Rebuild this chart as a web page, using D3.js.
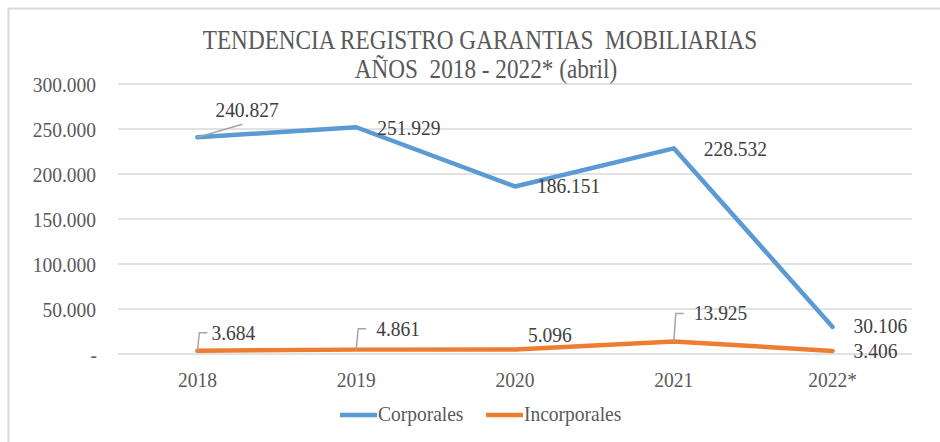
<!DOCTYPE html>
<html><head><meta charset="utf-8">
<script src="https://cdn.jsdelivr.net/npm/d3@7"></script>
<style>
html,body{margin:0;padding:0;background:#fff;}
text{font-family:"Liberation Serif","Times New Roman",serif;}
</style></head>
<body>
<svg id="c" width="940" height="442"></svg>
<script>
const years = ["2018","2019","2020","2021","2022*"];
const corporales = [240827, 251929, 186151, 228532, 30106];
const incorporales = [3684, 4861, 5096, 13925, 3406];
const yTicks = [0, 50000, 100000, 150000, 200000, 250000, 300000];
const titleLines = ["TENDENCIA REGISTRO GARANTIAS  MOBILIARIAS", "AÑOS  2018 - 2022* (abril)"];
const seriesNames = ["Corporales", "Incorporales"];

// label layout (offsets from point, px)
const corpLabelOff = [[18,-20],[21,8],[22,7],[30,8],[21,6]];
const incLabelOff  = [[14,-11],[20,-14],[13,-7],[20,-21],[21,7]];
const corpLeader = [true,false,false,false,false];
const incLeader  = [true,true,false,true,false];

const svg = d3.select("#c");
const loc = d3.formatLocale({decimal:",", thousands:".", grouping:[3], currency:["",""]});
const fmt = loc.format(",d");
const SX = 0.885;

function txt(g, x, y, s, opt) {
  opt = opt || {};
  return g.append("text")
    .attr("transform", `translate(${x},${y}) scale(${opt.sx||SX},1)`)
    .attr("text-anchor", opt.anchor || "start")
    .attr("font-size", opt.size || 22)
    .attr("fill", opt.fill || "#404040")
    .attr("xml:space","preserve")
    .style("white-space","pre")
    .text(s);
}

// border
svg.append("rect").attr("x",8.5).attr("y",8.5).attr("width",960).attr("height",460)
  .attr("fill","none").attr("stroke","#d9d9d9").attr("stroke-width",2);

const x = d3.scaleBand().domain(years).range([118, 912]).padding(0);
const y = d3.scaleLinear().domain([0, 300000]).range([354, 84]);
const cx = d => x(d) + x.bandwidth()/2;

// gridlines
svg.append("g").selectAll("line").data(yTicks).join("line")
  .attr("x1",118).attr("x2",912)
  .attr("y1",d=>y(d)).attr("y2",d=>y(d))
  .attr("stroke","#d9d9d9").attr("stroke-width",1.5);

// y labels
const gy = svg.append("g");
yTicks.forEach(t => {
  txt(gy, t===0 ? 97 : 96, y(t)+7.5, t===0 ? "-" : fmt(t), {anchor:"end", fill:"#595959"});
});

// x labels
const gx = svg.append("g");
years.forEach(yr => txt(gx, cx(yr), 387, yr, {anchor:"middle", fill:"#595959"}));

// title
txt(svg, 480, 49, titleLines[0], {anchor:"middle", size:27, sx:0.86, fill:"#595959"});
txt(svg, 486, 78, titleLines[1], {anchor:"middle", size:27, sx:0.86, fill:"#595959"});

// lines
const line = d3.line().x((d,i)=>cx(years[i])).y(d=>y(d));
svg.append("path").datum(corporales).attr("d", line)
  .attr("fill","none").attr("stroke","#5b9bd5").attr("stroke-width",4.5).attr("stroke-linejoin","round").attr("stroke-linecap","round");
svg.append("path").datum(incorporales).attr("d", line)
  .attr("fill","none").attr("stroke","#ed7d31").attr("stroke-width",4.5).attr("stroke-linejoin","round").attr("stroke-linecap","round");

// labels & leaders
const gl = svg.append("g");
corporales.forEach((v,i) => {
  const px = cx(years[i]), py = y(v);
  const [dx,dy] = corpLabelOff[i];
  if (corpLeader[i]) {
    gl.append("line").attr("x1",px).attr("y1",py).attr("x2",px+45).attr("y2",py-13)
      .attr("stroke","#a6a6a6").attr("stroke-width",1.5);
  }
  txt(gl, px+dx, py+dy, fmt(v));
});
incorporales.forEach((v,i) => {
  const px = cx(years[i]), py = y(v);
  const [dx,dy] = incLabelOff[i];
  if (incLeader[i]) {
    const ty = py + dy - 7;
    gl.append("polyline").attr("points", `${px},${py} ${px+2},${ty} ${px+10},${ty}`)
      .attr("fill","none").attr("stroke","#a6a6a6").attr("stroke-width",1.5);
  }
  txt(gl, px+dx, py+dy, fmt(v));
});

// legend
const legend = [{n:seriesNames[0], c:"#5b9bd5", x:340}, {n:seriesNames[1], c:"#ed7d31", x:486}];
legend.forEach(l => {
  svg.append("line").attr("x1",l.x).attr("x2",l.x+37).attr("y1",415).attr("y2",415)
    .attr("stroke",l.c).attr("stroke-width",4.5);
  txt(svg, l.x+38, 421, l.n, {fill:"#595959"});
});
</script>
</body></html>
